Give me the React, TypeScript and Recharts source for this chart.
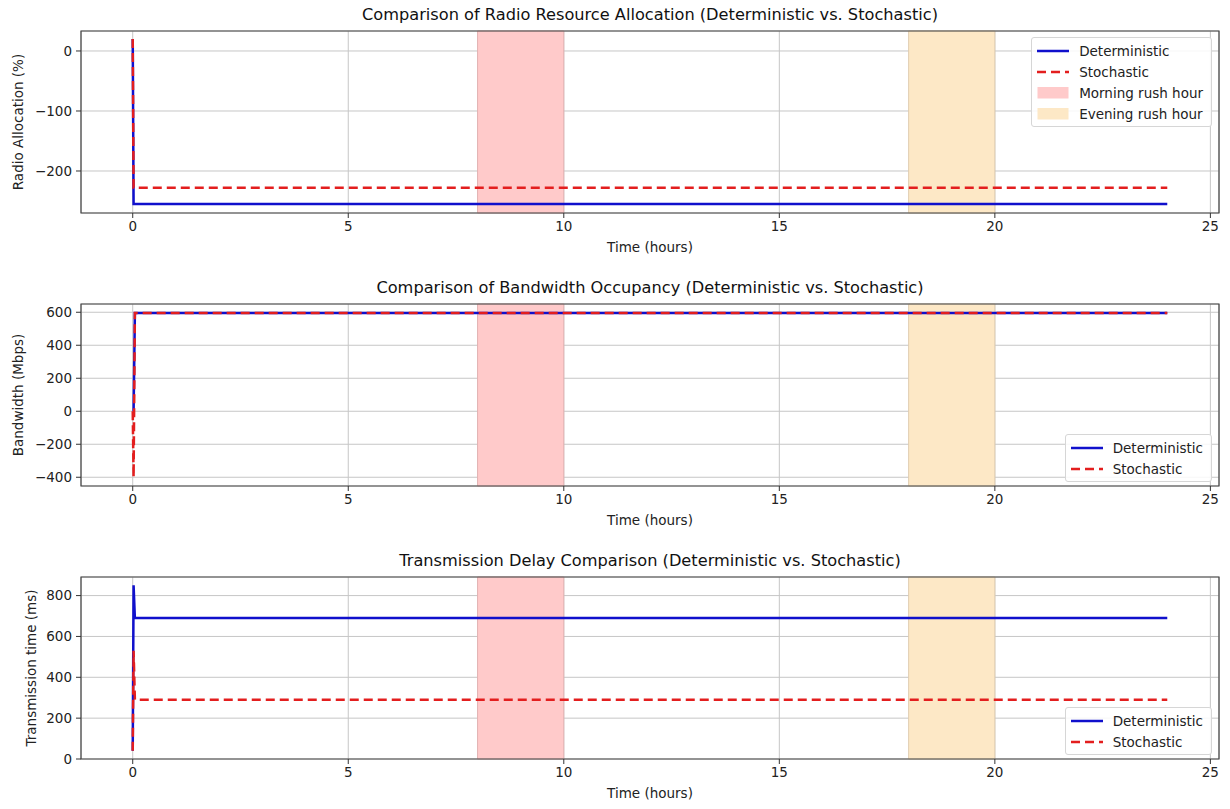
import { ComposedChart, Line, XAxis, YAxis, CartesianGrid, ReferenceArea } from 'recharts';

// time axis (hours) shared by the three panels
const timeHours = [0, 0.02, 0.05, 24];
const timeTicks = [0, 5, 10, 15, 20, 25];

// radio resource allocation (%)
const radioDeterministic = [20, -255, -255, -255];
const radioStochastic = [20, -228, -228, -228];
const radioTicks = [-200, -100, 0];

// bandwidth occupancy (Mbps)
const bandwidthDeterministic = [0, 0, 595, 595];
const bandwidthStochastic = [0, -400, 595, 595];
const bandwidthTicks = [-400, -200, 0, 200, 400, 600];

// transmission delay (ms)
const delayDeterministic = [40, 850, 690, 690];
const delayStochastic = [40, 530, 290, 290];
const delayTicks = [0, 200, 400, 600, 800];

const rushHours = { morning: [8, 10], evening: [18, 20] };

const FONT = '"DejaVu Sans", sans-serif';
const BLUE = '#1010cc';
const RED = '#e31e1e';
const X_DOMAIN: [number, number] = [-1.2, 25.2];

const fmt = (v: number) => (v < 0 ? '\u2212' + Math.abs(v) : String(v));

const build = (det: number[], sto: number[]) =>
  timeHours.map((t, i) => ({ t, det: det[i], sto: sto[i] }));

interface PanelProps {
  title: string;
  yLabel: string;
  yLabelX: number;
  det: number[];
  sto: number[];
  yTicks: number[];
  yDomain: [number, number];
  rushInLegend: boolean;
  legendTop: number;
}

const LegendBox = ({ showRush, top }: { showRush: boolean; top: number }) => {
  const rows: { label: string; kind: string; color: string }[] = [
    { label: 'Deterministic', kind: 'solid', color: BLUE },
    { label: 'Stochastic', kind: 'dash', color: RED },
  ];
  if (showRush) {
    rows.push({ label: 'Morning rush hour', kind: 'patch', color: '#ffcaca' });
    rows.push({ label: 'Evening rush hour', kind: 'patch', color: '#fde8c6' });
  }
  return (
    <div
      style={{
        position: 'absolute',
        right: 18,
        top,
        background: 'rgba(255,255,255,0.85)',
        border: '1px solid #d6d6d6',
        borderRadius: 3,
        padding: '2px 8px 2px 5px',
        fontFamily: FONT,
        fontSize: 13.5,
        color: '#222',
      }}
    >
      {rows.map((r) => (
        <div key={r.label} style={{ display: 'flex', alignItems: 'center', height: 21 }}>
          <svg width={32} height={12} style={{ marginRight: 10 }}>
            {r.kind === 'patch' ? (
              <rect x={1} y={0} width={30} height={11} fill={r.color} stroke={r.color} />
            ) : (
              <line
                x1={0}
                x2={32}
                y1={6}
                y2={6}
                stroke={r.color}
                strokeWidth={2.5}
                strokeDasharray={r.kind === 'dash' ? '9 5' : undefined}
              />
            )}
          </svg>
          <span>{r.label}</span>
        </div>
      ))}
    </div>
  );
};

const Panel = (p: PanelProps) => {
  const data = build(p.det, p.sto);
  return (
    <div style={{ position: 'relative', width: 1230, height: 273 }}>
      <div
        style={{
          position: 'absolute',
          left: 650,
          top: 14,
          transform: 'translate(-50%, -50%)',
          fontFamily: FONT,
          fontSize: 16.2,
          color: '#111',
          whiteSpace: 'nowrap',
        }}
      >
        {p.title}
      </div>
      <div
        style={{
          position: 'absolute',
          left: p.yLabelX,
          top: 122,
          transform: 'translate(-50%, -50%) rotate(-90deg)',
          fontFamily: FONT,
          fontSize: 13.5,
          color: '#222',
          whiteSpace: 'nowrap',
        }}
      >
        {p.yLabel}
      </div>
      <div
        style={{
          position: 'absolute',
          left: 650,
          top: 247,
          transform: 'translate(-50%, -50%)',
          fontFamily: FONT,
          fontSize: 13.5,
          color: '#222',
          whiteSpace: 'nowrap',
        }}
      >
        Time (hours)
      </div>
      <ComposedChart
        width={1230}
        height={273}
        data={data}
        margin={{ top: 31, right: 11, left: 0, bottom: 20 }}
        style={{ position: 'absolute', left: 0, top: 0 }}
      >
        <CartesianGrid stroke="#c6c6c6" strokeWidth={1} />
        <ReferenceArea
          x1={rushHours.morning[0]}
          x2={rushHours.morning[1]}
          fill="#ffcaca"
          fillOpacity={1}
          stroke="#e2b2b2"
        />
        <ReferenceArea
          x1={rushHours.evening[0]}
          x2={rushHours.evening[1]}
          fill="#fde8c6"
          fillOpacity={1}
          stroke="#e0cdb0"
        />
        <XAxis
          type="number"
          dataKey="t"
          domain={X_DOMAIN}
          ticks={timeTicks}
          allowDataOverflow
          height={40}
          axisLine={false}
          tickSize={5}
          tickMargin={3}
          tickLine={{ stroke: '#333' }}
          tick={{ fill: '#222', fontSize: 13.5, fontFamily: FONT }}
          tickFormatter={fmt}
        />
        <YAxis
          type="number"
          domain={p.yDomain}
          ticks={p.yTicks}
          allowDataOverflow
          width={81}
          axisLine={false}
          tickSize={5}
          tickMargin={4}
          tickLine={{ stroke: '#333' }}
          tick={{ fill: '#222', fontSize: 13.5, fontFamily: FONT }}
          tickFormatter={fmt}
        />
        <Line
          type="linear"
          dataKey="det"
          stroke={BLUE}
          strokeWidth={2.5}
          dot={false}
          isAnimationActive={false}
        />
        <Line
          type="linear"
          dataKey="sto"
          stroke={RED}
          strokeWidth={2.5}
          strokeDasharray="9 5"
          dot={false}
          isAnimationActive={false}
        />
        <ReferenceArea
          x1={X_DOMAIN[0]}
          x2={X_DOMAIN[1]}
          y1={p.yDomain[0]}
          y2={p.yDomain[1]}
          fill="none"
          stroke="#444"
          strokeWidth={1.2}
        />
      </ComposedChart>
      <LegendBox showRush={p.rushInLegend} top={p.legendTop} />
    </div>
  );
};

export default function App() {
  return (
    <div style={{ position: 'absolute', left: 0, top: 0, width: 1230, height: 809, background: '#fff', overflow: 'hidden' }}>
      <Panel
        title="Comparison of Radio Resource Allocation (Deterministic vs. Stochastic)"
        yLabel="Radio Allocation (%)"
        yLabelX={18}
        det={radioDeterministic}
        sto={radioStochastic}
        yTicks={radioTicks}
        yDomain={[-270, 33.3]}
        rushInLegend
        legendTop={37}
      />
      <Panel
        title="Comparison of Bandwidth Occupancy (Deterministic vs. Stochastic)"
        yLabel="Bandwidth (Mbps)"
        yLabelX={18}
        det={bandwidthDeterministic}
        sto={bandwidthStochastic}
        yTicks={bandwidthTicks}
        yDomain={[-453, 650]}
        rushInLegend={false}
        legendTop={161}
      />
      <Panel
        title="Transmission Delay Comparison (Deterministic vs. Stochastic)"
        yLabel="Transmission time (ms)"
        yLabelX={31}
        det={delayDeterministic}
        sto={delayStochastic}
        yTicks={delayTicks}
        yDomain={[0, 891]}
        rushInLegend={false}
        legendTop={161}
      />
    </div>
  );
}
